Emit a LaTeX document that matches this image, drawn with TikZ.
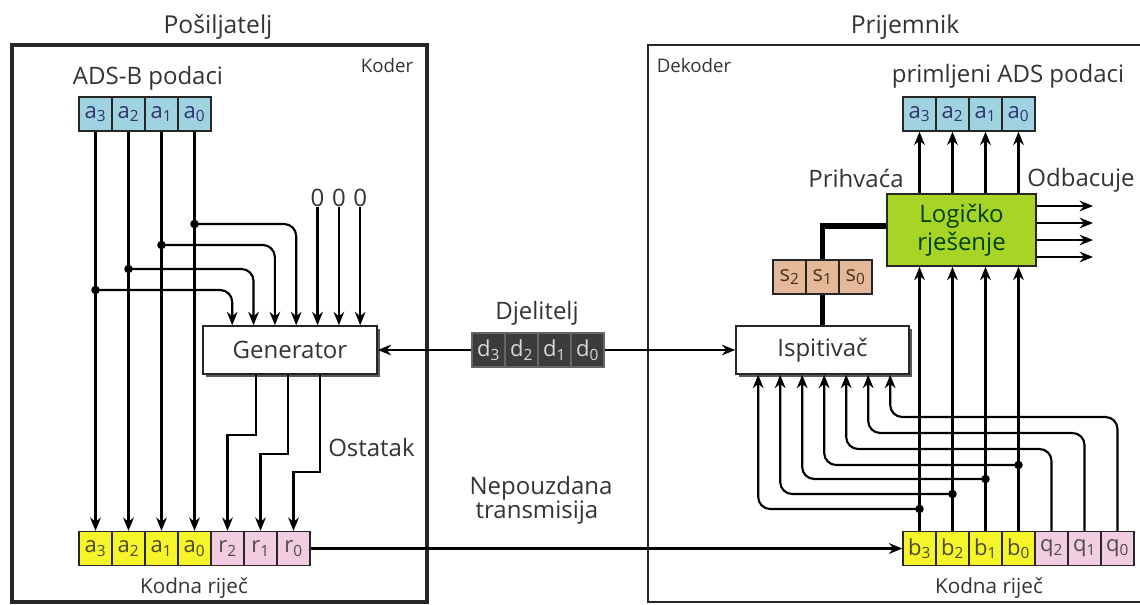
\documentclass[tikz,border=0pt]{standalone}
\usepackage{fontspec}
\setmainfont{Open Sans}
\usetikzlibrary{positioning, arrows.meta, shadows}

\definecolor{txt}{HTML}{333333}
\definecolor{cellblue}{HTML}{9FD3E0}
\definecolor{cellyellow}{HTML}{F5F52A}
\definecolor{cellpink}{HTML}{F2CCE0}
\definecolor{celltan}{HTML}{E4B99A}
\definecolor{celldark}{HTML}{3C3C3C}
\definecolor{logicgreen}{HTML}{A8D426}

\tikzset{
  cell/.style={draw=black!85, line width=1pt, minimum width=24.75pt, minimum height=25.5pt,
    inner sep=0pt, font=\fontsize{16.5}{16.5}\selectfont, text=txt},
  bluecell/.style={cell, fill=cellblue, text=blue!30!black!80},
  yellowcell/.style={cell, fill=cellyellow, text=olive!40!black},
  pinkcell/.style={cell, fill=cellpink, text=black!70},
  tancell/.style={cell, fill=celltan, text=brown!40!black},
  darkcell/.style={cell, fill=celldark, draw=black!60, text=black!15},
  unit/.style={draw=black!85, line width=1.2pt, fill=white, inner sep=0pt, text=txt,
    font=\fontsize{18}{18}\selectfont,
    drop shadow={shadow xshift=2.5pt, shadow yshift=-2.5pt, fill=black!65, opacity=1}},
  lbl/.style={text=txt, font=\fontsize{18}{18}\selectfont, inner sep=0pt},
  small/.style={text=txt, font=\fontsize{14}{14}\selectfont, inner sep=0pt},
  cwlbl/.style={text=txt, font=\fontsize{15.5}{15.5}\selectfont, inner sep=0pt},
  title/.style={text=txt, font=\fontsize{18.5}{18.5}\selectfont, inner sep=0pt},
  arr/.style={-{Stealth[length=10pt, width=8pt]}, line width=1.6pt},
}

\begin{document}
\begin{tikzpicture}[x=0.75pt, y=-0.75pt]
  \useasboundingbox (0,0) rectangle (1140,604);

  % Posiljatelj / koder
  \draw[line width=2.3pt, black!85] (12,45) rectangle (427,602);
  \node[title] (sendt) at (218,27) {Pošiljatelj};
  \node[small] (koder) at (387,65) {Koder};
  \node[lbl] (adsb) at (148,78) {ADS-B podaci};
  \foreach \n [count=\i from 0] in {3,2,1,0} {
    \node[bluecell] (ad\n) at (95.5+33*\i,114) {a\textsubscript{\n}};
    \node[yellowcell] (ka\n) at (95.5+33*\i,548.5) {a\textsubscript{\n}};
  }
  \foreach \n [count=\i from 4] in {2,1,0}
    \node[pinkcell] (kr\n) at (95.5+33*\i,548.5) {r\textsubscript{\n}};
  \node[cwlbl] (kwl) at (194,588) {Kodna riječ};

  \node[unit, minimum width=130.5pt, minimum height=36pt] (gen) at (290,350) {Generator};
  \foreach \k in {1,...,7}
    \coordinate (gi\k) at ([xshift={6.5pt+16pt*\k}]gen.north west);
  \foreach \k in {1,2,3}
    \coordinate (go\k) at ([xshift={16.5pt+24pt*\k}]gen.south west);

  % podaci prema kodnoj rijeci i generatoru
  \foreach \n in {3,2,1,0}
    \draw[arr] (ad\n) -- (ka\n);
  \foreach \n/\y/\k in {3/290/1, 2/269/2, 1/245/3, 0/224/4} {
    \fill (ad\n |- 0,\y) circle (3.2pt);
    \draw[arr, rounded corners=9pt] (ad\n |- 0,\y) -| (gi\k);
  }
  \foreach \k in {5,6,7} {
    \node[lbl] (z\k) at (gi\k |- 0,198) {0};
    \draw[arr] (z\k) -- (gi\k);
  }

  % ostatak
  \draw[arr] (go1) -- ++(0,60) -| (kr2);
  \draw[arr] (go2) -- ++(0,79) -| (kr1);
  \draw[arr] (go3) -- ++(0,97) -| (kr0);
  \node[lbl, anchor=west] (ost) at (328,447) {Ostatak};

  % djelitelj
  \node[lbl] (djl) at (537,313) {Djelitelj};
  \foreach \n [count=\i from 0] in {3,2,1,0}
    \node[darkcell] (dv\n) at (488.5+33*\i,350) {d\textsubscript{\n}};
  \draw[arr] (dv3) -- (gen);

  % prijenos
  \node[lbl] (nep) at (541,488) {Nepouzdana};
  \node[lbl] (trn) at (537,513) {transmisija};

  % Prijemnik / dekoder
  \draw[line width=1.6pt, black!85] (1142,45) -- (648,45) -- (648,602) -- (1142,602);
  \node[title] (recvt) at (905,27) {Prijemnik};
  \node[small] (dekoder) at (694,65) {Dekoder};
  \node[lbl] (prim) at (1008,76) {primljeni ADS podaci};
  \foreach \n [count=\i from 0] in {3,2,1,0} {
    \node[bluecell] (ra\n) at (919.5+33*\i,114) {a\textsubscript{\n}};
    \node[yellowcell] (rb\n) at (919.5+33*\i,548.5) {b\textsubscript{\n}};
  }
  \foreach \n [count=\i from 4] in {2,1,0}
    \node[pinkcell] (rq\n) at (919.5+33*\i,548.5) {q\textsubscript{\n}};
  \node[cwlbl] (kwr) at (989,588) {Kodna riječ};

  \node[unit, minimum width=129.75pt, minimum height=36pt] (isp) at (822.5,350) {Ispitivač};
  \foreach \k in {1,...,7}
    \coordinate (ii\k) at ([xshift={0.75pt+16.5pt*\k}]isp.south west);
  \foreach \n [count=\i from 0] in {2,1,0}
    \node[tancell] (sy\n) at (789.5+33*\i,277) {s\textsubscript{\n}};
  \node[draw=black!85, line width=1.2pt, fill=logicgreen, text=green!25!black, align=center,
    minimum width=111.75pt, minimum height=54pt, inner sep=0pt,
    font=\fontsize{18}{21}\selectfont] (logic) at (961.5,230) {Logičko\\rješenje};

  \draw[arr] (dv0) -- (isp);
  \draw[arr] (kr0) -- (rb3);

  % sindrom
  \draw[line width=4pt] (isp.north) -- (sy1.south);
  \draw[line width=4pt] (sy1.north) |- ([yshift=3pt]logic.west);

  % kodna rijec prema ispitivacu
  \foreach \n/\y/\k in {3/509/1, 2/494/2, 1/479/3, 0/465/4} {
    \fill (rb\n |- 0,\y) circle (3.2pt);
    \draw[arr, rounded corners=9pt] (rb\n |- 0,\y) -| (ii\k);
    \draw[arr] (rb\n) -- (rb\n |- logic.south);
    \draw[arr] (logic.north -| ra\n) -- (ra\n);
  }
  \foreach \n/\y/\k in {2/449/5, 1/433/6, 0/417/7}
    \draw[arr, rounded corners=9pt] (rq\n.north) -- (rq\n |- 0,\y) -| (ii\k);

  % odluka
  \node[lbl] (prihv) at (856,178) {Prihvaća};
  \node[lbl] (odb) at (1081,180) {Odbacuje};
  \foreach \y [count=\k] in {206,223,240,257} {
    \coordinate (od\k) at (1093,\y);
    \draw[arr] (logic.east |- od\k) -- (od\k);
  }
\end{tikzpicture}
\end{document}
